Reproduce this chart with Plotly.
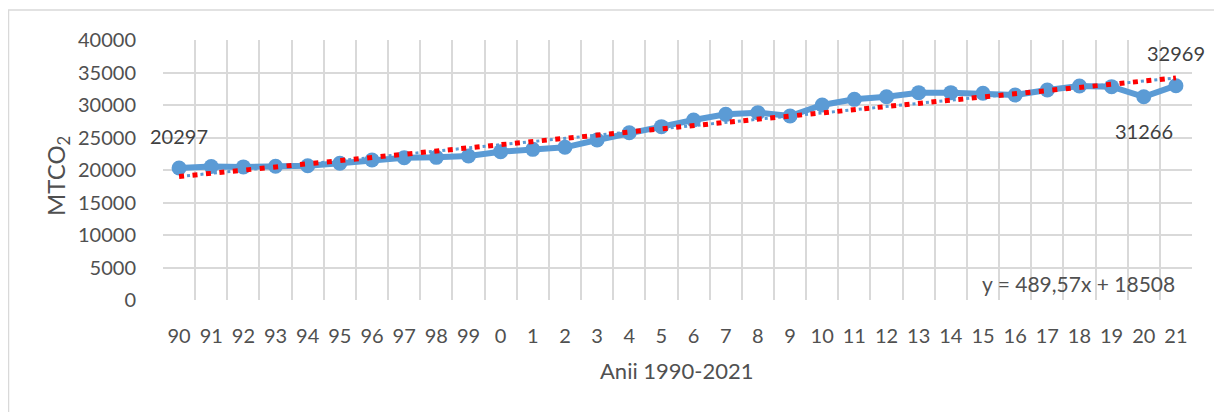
import plotly.graph_objects as go

# ---- data ----
years = ["90", "91", "92", "93", "94", "95", "96", "97", "98", "99",
         "0", "1", "2", "3", "4", "5", "6", "7", "8", "9",
         "10", "11", "12", "13", "14", "15", "16", "17", "18", "19", "20", "21"]
emissions = [20297, 20550, 20480, 20580, 20650, 21050, 21550, 21900, 21950, 22150,
             22820, 23180, 23490, 24620, 25740, 26670, 27690, 28560, 28820, 28310,
             30000, 30870, 31280, 31900, 31900, 31800, 31540, 32310, 32920, 32820,
             31266, 32969]
trend_slope = 489.57
trend_intercept = 18508
trend_label = "y = 489,57x + 18508"
y_ticks = [0, 5000, 10000, 15000, 20000, 25000, 30000, 35000, 40000]
x_title = "Anii 1990-2021"
y_title = "MTCO<sub>2</sub>"

idx = list(range(1, len(years) + 1))
trend_x = [idx[0], idx[-1]]
trend_y = [trend_slope * x + trend_intercept for x in trend_x]

FONT = "Lato, 'Open Sans', sans-serif"
BLUE = "#5B9BD5"
GRID = "#D9D9D9"
TXT = "#505050"

# page body has an 8px default margin; figure is sized/offset to compensate
W, H = 1214, 404
L, R, T, B = 155, 30, 32, 112
PW = W - L - R
PH = H - T - B

fig = go.Figure()
fig.add_trace(go.Scatter(x=idx, y=emissions, mode="lines+markers",
                         line=dict(color=BLUE, width=6),
                         marker=dict(color=BLUE, size=15), showlegend=False))
fig.add_trace(go.Scatter(x=trend_x, y=trend_y, mode="lines",
                         line=dict(color=BLUE, width=3, dash="0px,8px,3px,2.5px"),
                         showlegend=False))
fig.add_trace(go.Scatter(x=trend_x, y=trend_y, mode="lines",
                         line=dict(color="#FF0000", width=5, dash="5px,8.5px"),
                         showlegend=False))

ann = []
lab_font = dict(family=FONT, size=20, color="#404040")
ann.append(dict(x=idx[0], y=emissions[0], text=str(emissions[0]), showarrow=False,
                yshift=32, font=lab_font))
ann.append(dict(x=idx[-1], y=emissions[-1], text=str(emissions[-1]), showarrow=False,
                yshift=33, font=lab_font))
ann.append(dict(x=idx[-2], y=emissions[-2], text=str(emissions[-2]), showarrow=False,
                yshift=-34, font=lab_font))
# trendline equation
ann.append(dict(xref="paper", yref="paper", x=(1169 - L) / PW, y=(292 - 275) / PH,
                xanchor="right", yanchor="middle",
                text=trend_label, showarrow=False,
                font=dict(family=FONT, size=21, color=TXT)))
# axis titles
ann.append(dict(xref="paper", yref="paper", x=(669 - L) / PW, y=(292 - 362) / PH,
                xanchor="center", yanchor="middle",
                text=x_title, showarrow=False, font=dict(family=FONT, size=22, color=TXT)))
ann.append(dict(xref="paper", yref="paper", x=(50 - L) / PW, y=(292 - 168) / PH,
                xanchor="center", yanchor="middle",
                text=y_title, textangle=-90, showarrow=False,
                font=dict(family=FONT, size=24, color=TXT)))

fig.update_layout(
    width=W, height=H,
    margin=dict(l=L, r=R, t=T, b=B),
    paper_bgcolor="white", plot_bgcolor="white",
    font=dict(family=FONT, size=20, color=TXT),
    annotations=ann,
    shapes=[dict(type="rect", xref="paper", yref="paper",
                 x0=(0.5 - L) / PW, x1=(1210 - L) / PW,
                 y0=(292 - 430) / PH, y1=(292 - 2) / PH,
                 line=dict(color=GRID, width=1.5), fillcolor="rgba(0,0,0,0)", layer="below")],
)
fig.update_xaxes(range=[0.5, len(years) + 0.5], tickvals=idx, ticktext=years,
                 showgrid=False, zeroline=False, showline=False,
                 ticks="outside", ticklen=18, tickcolor="rgba(0,0,0,0)",
                 tickfont=dict(family=FONT, size=20, color=TXT),
                 minor=dict(tickvals=[i + 0.5 for i in range(0, len(years) + 1)],
                            showgrid=True, gridcolor=GRID, gridwidth=1.5, ticks=""))
fig.update_yaxes(range=[0, 40000], tickvals=y_ticks, ticktext=[str(v) for v in y_ticks],
                 showgrid=True, gridcolor=GRID, gridwidth=1.5, zeroline=False, showline=False,
                 ticks="outside", ticklen=22, tickcolor="rgba(0,0,0,0)",
                 tickfont=dict(family=FONT, size=20, color=TXT))

fig.write_html("out.html")
